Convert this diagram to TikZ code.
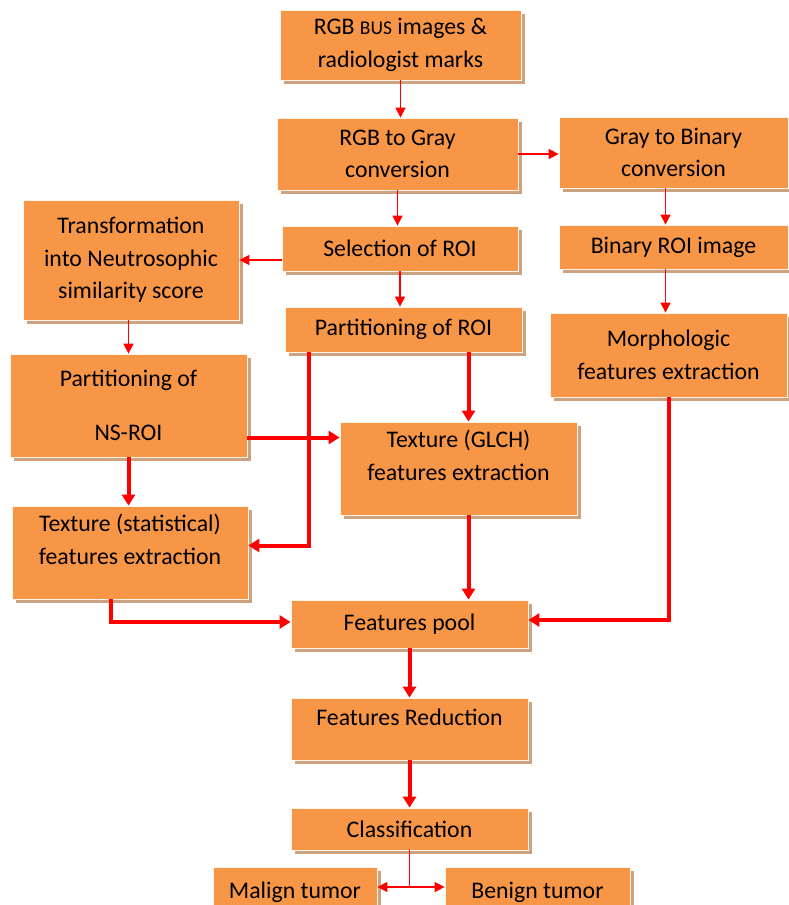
\documentclass[tikz,border=0pt]{standalone}
\usepackage{fontspec}
\setmainfont{Carlito}
\usetikzlibrary{arrows.meta,shadows}
\definecolor{boxorange}{RGB}{247,150,70}
\definecolor{shadowtan}{RGB}{204,162,128}
\begin{document}
\begin{tikzpicture}[x = 1pt, y = -1pt,
        procbox/.style = {draw = white!92!orange, line width = 0.8pt, fill = boxorange,
            inner sep = 0pt, align = center, font = \fontsize{23.8}{32.5}\selectfont,
            drop shadow = {shadow xshift = 3.5pt, shadow yshift = -3.5pt, fill = shadowtan, opacity = 1}},
        thinarrow/.style = {red, line width = 1.6pt, -{Triangle[length = 10pt, width = 10pt]}},
        thickarrow/.style = {red, line width = 4pt, -{Triangle[length = 11pt, width = 13pt]}}]
        \useasboundingbox (0,0) rectangle (789,905);

        \node (top) at (400.5, 45) [procbox, minimum width = 241pt, minimum height = 70pt] {RGB {\fontsize{19.5}{32}\selectfont BUS} images \&\\radiologist marks};
        \node (rgbgray) at (397.5, 154) [procbox, minimum width = 241pt, minimum height = 72pt] {RGB to Gray\\conversion};
        \node (graybin) at (673.5, 152.5) [procbox, minimum width = 229pt, minimum height = 71pt] {Gray to Binary\\conversion};
        \node (binroi) at (673.5, 247) [procbox, minimum width = 229pt, minimum height = 44pt] {Binary ROI image};
        \node (morph) at (668.5, 355) [procbox, minimum width = 237pt, minimum height = 84pt] {Morphologic\\features extraction};
        \node (selroi) at (400, 248.5) [procbox, minimum width = 236pt, minimum height = 45pt] {Selection of ROI};
        \node (transf) at (131, 260) [procbox, minimum width = 216pt, minimum height = 120pt] {Transformation\\into Neutrosophic\\similarity score};
        \node (partroi) at (403.5, 329.5) [procbox, minimum width = 237pt, minimum height = 45pt] {Partitioning of ROI};
        \node (partns) at (128.5, 405.5) [procbox, minimum width = 237pt, minimum height = 103pt] {Partitioning of\\[22pt]NS-ROI};
        \node (glch) at (458.5, 468.5) [procbox, minimum width = 237pt, minimum height = 93pt, text depth = 26pt] {Texture (GLCH)\\features extraction};
        \node (stat) at (130, 552.5) [procbox, minimum width = 236pt, minimum height = 93pt, text depth = 26pt] {Texture (statistical)\\features extraction};
        \node (pool) at (409.5, 624) [procbox, minimum width = 237pt, minimum height = 48pt] {Features pool};
        \node (reduc) at (409.5, 729) [procbox, minimum width = 237pt, minimum height = 62pt, text depth = 23pt] {Features Reduction};
        \node (classif) at (409.5, 829) [procbox, minimum width = 237pt, minimum height = 42pt] {Classification};
        \node (malign) at (295, 892) [procbox, minimum width = 164pt, minimum height = 50pt] {Malign tumor};
        \node (benign) at (537.5, 892) [procbox, minimum width = 185pt, minimum height = 50pt] {Benign tumor};

        \draw [thinarrow] (top.south) -- (top.south |- rgbgray.north);
        \draw [thinarrow] (rgbgray.east) -- (rgbgray.east -| graybin.west);
        \draw [thinarrow] (rgbgray.south) -- (rgbgray.south |- selroi.north);
        \draw [thinarrow] (selroi.west |- transf.east) -- (transf.east);
        \draw [thinarrow] (selroi.south) -- (selroi.south |- partroi.north);
        \draw [thinarrow] (partns.north |- transf.south) -- (partns.north);
        \draw [thinarrow] ([xshift = -8pt]graybin.south) -- ([xshift = -8pt]graybin.south |- binroi.north);
        \draw [thinarrow] ([xshift = -8pt]binroi.south) -- ([xshift = -8pt]binroi.south |- morph.north);

        \draw [thickarrow] ([xshift = 10pt]glch.north |- partroi.south) -- ([xshift = 10pt]glch.north);
        \draw [thickarrow] ([xshift = -95pt]partroi.south) |- ([yshift = 7pt]stat.east);
        \draw [thickarrow] ([yshift = -32pt]partns.east) -- ([yshift = -32pt]partns.east -| glch.west);
        \draw [thickarrow] (partns.south) -- (partns.south |- stat.north);
        \draw [thickarrow] ([xshift = -19pt]stat.south) |- ([yshift = 2pt]pool.west);
        \draw [thickarrow] ([xshift = 10pt]glch.south) -- ([xshift = 10pt]glch.south |- pool.north);
        \draw [thickarrow] (morph.south) |- ([yshift = 4pt]pool.east);
        \draw [thickarrow] (pool.south) -- (reduc.north);
        \draw [thickarrow] (reduc.south) -- (classif.north);

        \coordinate (fork) at (409.5, 887);
        \draw [red, line width = 1.2pt] (classif.south) -- (fork);
        \draw [thinarrow] (fork) -- (fork -| malign.east);
        \draw [thinarrow] (fork) -- (fork -| benign.west);
    \end{tikzpicture}
\end{document}
